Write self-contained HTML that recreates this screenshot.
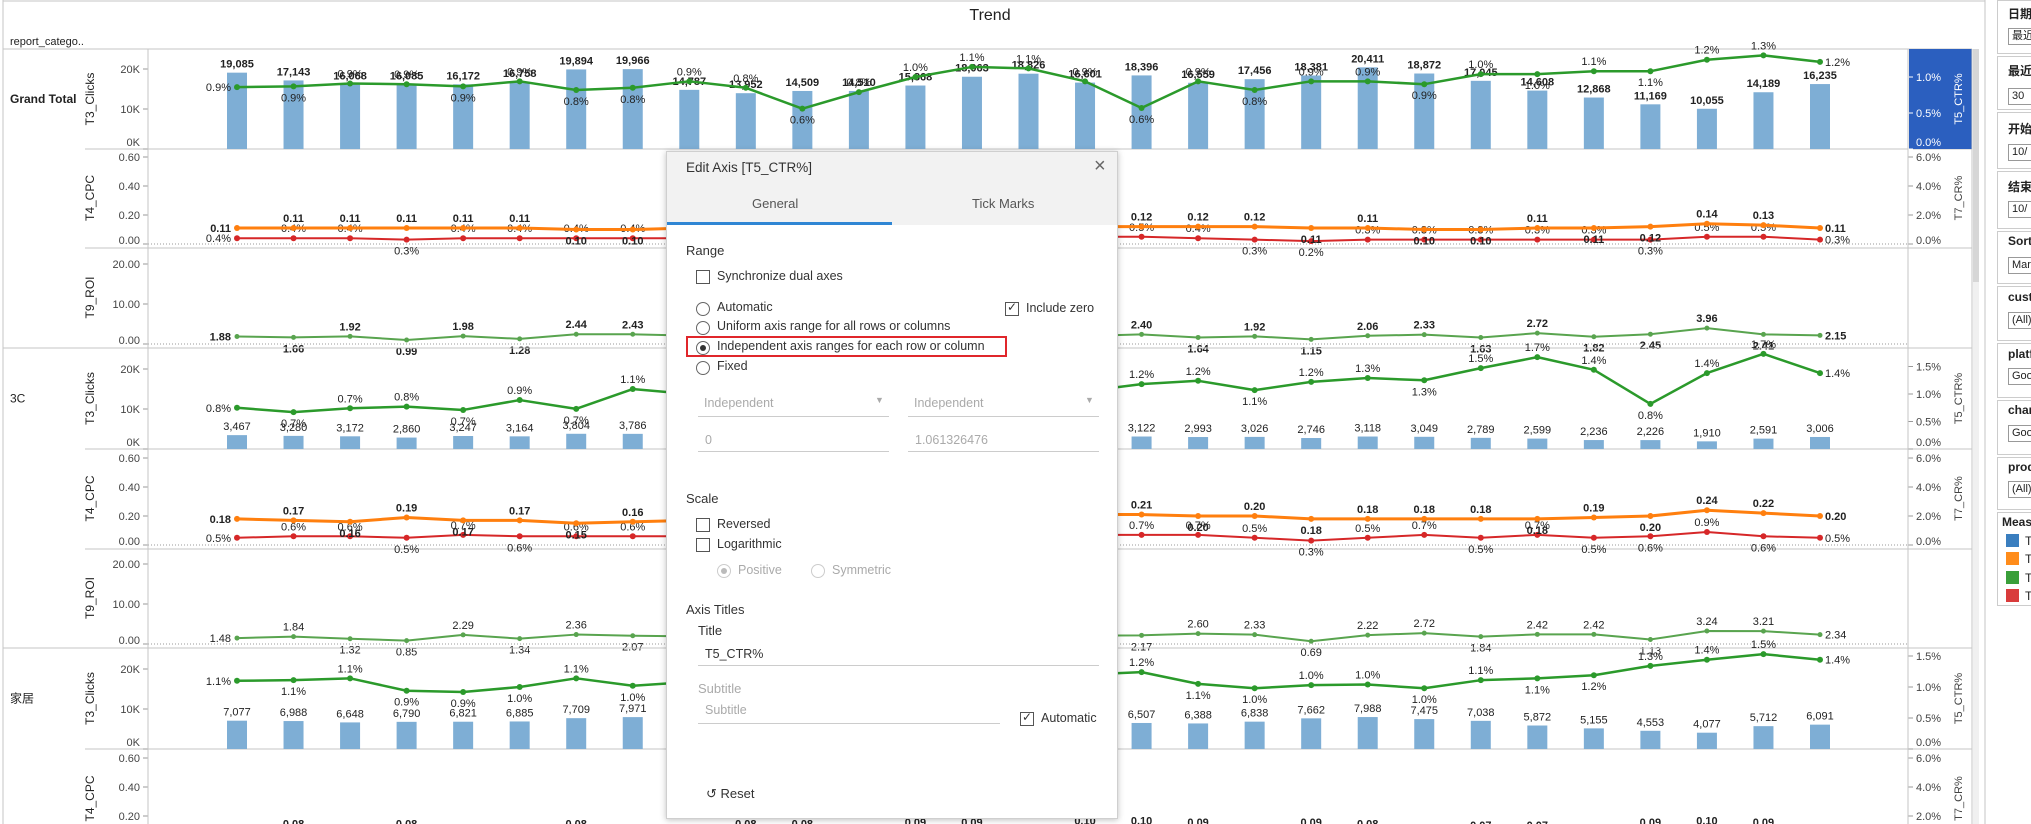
<!DOCTYPE html>
<html><head><meta charset="utf-8"><title>Trend</title>
<style>
html,body{margin:0;padding:0;background:#fff;width:2031px;height:824px;overflow:hidden;font-family:"Liberation Sans","Noto Sans CJK SC",sans-serif;}
#chart{position:absolute;left:0;top:0;}
.dlg{position:absolute;left:666px;top:151px;width:450px;height:666px;background:#fff;border:1px solid #cfcfcf;box-shadow:0 1px 6px rgba(0,0,0,.25);font-family:"Liberation Sans",sans-serif;font-size:12.5px;color:#333;}
.dlg .hd{position:absolute;left:0;top:0;width:450px;height:73px;background:#f2f2f2;}
.dlg .t{position:absolute;white-space:nowrap;}
.cb{position:absolute;width:12px;height:12px;border:1px solid #555;background:#fff;}
.rd{position:absolute;width:12px;height:12px;border:1px solid #666;border-radius:50%;background:#fff;}
.ln{position:absolute;height:1px;background:#ccc;}
.gray{color:#aaa;}
.fp{position:absolute;left:1997px;width:40px;border:1px solid #ccc;background:#fff;font-size:12px;color:#222;}
.fp .lb{position:absolute;left:10px;white-space:nowrap;font-weight:bold;}
.fp .bx{position:absolute;left:10px;width:40px;height:15px;border:1px solid #999;font-size:11px;line-height:15px;padding-left:3px;white-space:nowrap;overflow:hidden;}
</style></head><body>
<svg id="chart" width="2031" height="824" xmlns="http://www.w3.org/2000/svg"></svg>

<div class="fp" style="top:0px;height:52px"><span class="lb" style="top:4px">日期</span><div class="bx" style="top:27px">最近</div></div>
<div class="fp" style="top:56px;height:52px"><span class="lb" style="top:5px">最近</span><div class="bx" style="top:31px">30</div></div>
<div class="fp" style="top:112px;height:55px"><span class="lb" style="top:7px">开始</span><div class="bx" style="top:31px">10/</div></div>
<div class="fp" style="top:171px;height:56px"><span class="lb" style="top:6px">结束</span><div class="bx" style="top:29px">10/</div></div>
<div class="fp" style="top:231px;height:51px"><span class="lb" style="top:2px">Sort</span><div class="bx" style="top:25px">Mar</div></div>
<div class="fp" style="top:286px;height:53px"><span class="lb" style="top:3px">cust</span><div class="bx" style="top:25px">(All)</div></div>
<div class="fp" style="top:343px;height:53px"><span class="lb" style="top:3px">platf</span><div class="bx" style="top:24px">Goo</div></div>
<div class="fp" style="top:400px;height:53px"><span class="lb" style="top:2px">char</span><div class="bx" style="top:24px">Goo</div></div>
<div class="fp" style="top:457px;height:51px"><span class="lb" style="top:2px">prod</span><div class="bx" style="top:23px">(All)</div></div>
<div class="fp" style="top:512px;height:92px"><span class="lb" style="top:2px;left:4px">Meas</span>
<div style="position:absolute;left:8px;top:21px;width:13px;height:13px;background:#3a7ebf"></div><span style="position:absolute;left:27px;top:21px">T</span>
<div style="position:absolute;left:8px;top:39px;width:13px;height:13px;background:#ff8c1a"></div><span style="position:absolute;left:27px;top:39px">T</span>
<div style="position:absolute;left:8px;top:58px;width:13px;height:13px;background:#3a9f3a"></div><span style="position:absolute;left:27px;top:58px">T</span>
<div style="position:absolute;left:8px;top:76px;width:13px;height:13px;background:#d93b3b"></div><span style="position:absolute;left:27px;top:76px">T</span>
</div>
<div style="position:absolute;left:1973px;top:49px;width:6px;height:775px;background:#f0f0f0"></div>
<div style="position:absolute;left:1973px;top:49px;width:6px;height:233px;background:#d6d6d6"></div>

<div class="dlg">
 <div class="hd"></div>
 <span class="t" style="left:19px;top:8px;font-size:13.5px">Edit Axis [T5_CTR%]</span>
 <span class="t" style="left:427px;top:3px;font-size:20px;color:#666">×</span>
 <span class="t" style="left:85px;top:44px;font-size:13px;color:#555">General</span>
 <span class="t" style="left:305px;top:44px;font-size:13px;color:#555">Tick Marks</span>
 <div style="position:absolute;left:0;top:70px;width:225px;height:3px;background:#2f86d4"></div>
 <span class="t" style="left:19px;top:91px;font-size:13px">Range</span>
 <div class="cb" style="left:29px;top:118px"></div><span class="t" style="left:50px;top:117px">Synchronize dual axes</span>
 <div class="rd" style="left:29px;top:150px"></div><span class="t" style="left:50px;top:148px">Automatic</span>
 <div class="cb" style="left:338px;top:150px"><span style="position:absolute;left:1px;top:-3px;font-size:12px;color:#333">✓</span></div><span class="t" style="left:359px;top:149px">Include zero</span>
 <div class="rd" style="left:29px;top:169px"></div><span class="t" style="left:50px;top:167px">Uniform axis range for all rows or columns</span>
 <div style="position:absolute;left:19px;top:184px;width:321px;height:21px;border:2px solid #e0262b;box-sizing:border-box"></div>
 <div class="rd" style="left:29px;top:189px"><div style="position:absolute;left:3px;top:3px;width:6px;height:6px;border-radius:50%;background:#333"></div></div><span class="t" style="left:50px;top:187px">Independent axis ranges for each row or column</span>
 <div class="rd" style="left:29px;top:209px"></div><span class="t" style="left:50px;top:207px">Fixed</span>
 <span class="t gray" style="left:37px;top:244px">Independent</span><span class="t gray" style="left:208px;top:243px;font-size:9px">▼</span>
 <div class="ln" style="left:31px;top:264px;width:191px"></div>
 <span class="t gray" style="left:247px;top:244px">Independent</span><span class="t gray" style="left:418px;top:243px;font-size:9px">▼</span>
 <div class="ln" style="left:241px;top:264px;width:191px"></div>
 <span class="t gray" style="left:38px;top:281px">0</span>
 <div class="ln" style="left:31px;top:299px;width:191px"></div>
 <span class="t gray" style="left:248px;top:281px">1.061326476</span>
 <div class="ln" style="left:241px;top:299px;width:191px"></div>
 <span class="t" style="left:19px;top:339px;font-size:13px">Scale</span>
 <div class="cb" style="left:29px;top:366px"></div><span class="t" style="left:50px;top:365px">Reversed</span>
 <div class="cb" style="left:29px;top:386px"></div><span class="t" style="left:50px;top:385px">Logarithmic</span>
 <div class="rd" style="left:50px;top:412px;border-color:#ccc"><div style="position:absolute;left:3px;top:3px;width:6px;height:6px;border-radius:50%;background:#bbb"></div></div><span class="t gray" style="left:71px;top:411px">Positive</span>
 <div class="rd" style="left:144px;top:412px;border-color:#ccc"></div><span class="t gray" style="left:165px;top:411px">Symmetric</span>
 <span class="t" style="left:19px;top:450px;font-size:13px">Axis Titles</span>
 <span class="t" style="left:31px;top:471px;font-size:13px">Title</span>
 <span class="t" style="left:38px;top:495px">T5_CTR%</span>
 <div class="ln" style="left:31px;top:513px;width:401px"></div>
 <span class="t gray" style="left:31px;top:529px;font-size:13px">Subtitle</span>
 <span class="t gray" style="left:38px;top:551px">Subtitle</span>
 <div class="ln" style="left:31px;top:571px;width:302px"></div>
 <div class="cb" style="left:353px;top:560px"><span style="position:absolute;left:1px;top:-3px;font-size:12px;color:#333">✓</span></div><span class="t" style="left:374px;top:559px">Automatic</span>
 <span class="t" style="left:39px;top:634px;font-size:13px">↺ Reset</span>
</div>

<script>
const categoriesN = 29;
const gtClicks = [19085,17143,16068,16085,16172,16758,19894,19966,14787,13952,14509,14510,15868,18063,18826,16601,18396,16559,17456,18381,20411,18872,17045,14608,12868,11169,10055,14189,16235];
const gtCtr = [0.86,0.87,0.91,0.90,0.87,0.94,0.82,0.85,0.94,0.85,0.56,0.79,1.0,1.14,1.12,0.94,0.57,0.94,0.82,0.94,0.94,0.90,1.04,1.04,1.08,1.08,1.24,1.30,1.21];
const gtCpc = [0.11,0.11,0.11,0.11,0.11,0.11,0.10,0.10,0.11,0.11,0.11,0.11,0.11,0.12,0.12,0.12,0.12,0.12,0.12,0.11,0.11,0.10,0.10,0.11,0.11,0.12,0.14,0.13,0.11];
const gtCr = [0.4,0.4,0.4,0.3,0.4,0.4,0.4,0.4,0.4,0.4,0.4,0.4,0.4,0.5,0.5,0.5,0.5,0.4,0.3,0.2,0.3,0.3,0.3,0.3,0.3,0.3,0.5,0.5,0.3];
const gtRoi = [1.88,1.66,1.92,0.99,1.98,1.28,2.44,2.43,2.10,1.90,1.50,1.80,2.00,2.30,2.20,2.00,2.40,1.64,1.92,1.15,2.06,2.33,1.63,2.72,1.82,2.45,3.96,2.41,2.15];
const c3Clicks = [3467,3280,3172,2860,3247,3164,3804,3786,3700,3600,3500,3400,3300,3200,3150,3100,3122,2993,3026,2746,3118,3049,2789,2599,2236,2226,1910,2591,3006];
const c3Ctr = [0.75,0.67,0.74,0.77,0.71,0.89,0.73,1.09,1.0,0.95,1.0,1.05,1.1,1.15,1.1,1.05,1.18,1.24,1.07,1.22,1.29,1.25,1.47,1.67,1.44,0.82,1.38,1.73,1.38];
const c3Cpc = [0.18,0.17,0.16,0.19,0.17,0.17,0.15,0.16,0.17,0.18,0.18,0.19,0.19,0.20,0.20,0.21,0.21,0.20,0.20,0.18,0.18,0.18,0.18,0.18,0.19,0.20,0.24,0.22,0.20];
const c3Cr = [0.5,0.6,0.6,0.5,0.7,0.6,0.6,0.6,0.6,0.6,0.6,0.6,0.7,0.7,0.7,0.7,0.7,0.7,0.5,0.3,0.5,0.7,0.5,0.7,0.5,0.6,0.9,0.6,0.5];
const c3Roi = [1.48,1.84,1.32,0.85,2.29,1.34,2.36,2.07,1.90,2.00,1.80,2.10,2.20,2.00,2.30,2.10,2.17,2.60,2.33,0.69,2.22,2.72,1.84,2.42,2.42,1.13,3.24,3.21,2.34];
const hjClicks = [7077,6988,6648,6790,6821,6885,7709,7971,7500,7200,6900,6800,6700,6600,6500,6550,6507,6388,6838,7662,7988,7475,7038,5872,5155,4553,4077,5712,6091];
const hjCtr = [1.10,1.11,1.14,0.94,0.92,1.0,1.14,1.02,1.08,1.1,1.12,1.15,1.18,1.2,1.18,1.2,1.24,1.05,0.98,1.03,1.04,0.98,1.11,1.14,1.19,1.34,1.44,1.53,1.44];
const hjCpc = [0.07,0.08,0.07,0.08,0.07,0.07,0.08,0.07,0.07,0.08,0.08,0.08,0.09,0.09,0.09,0.10,0.10,0.09,0.08,0.09,0.08,0.07,0.07,0.07,0.07,0.09,0.10,0.09,0.08];
const hjCr = [0.5,0.5,0.5,0.5,0.5,0.5,0.5,0.5,0.5,0.5,0.5,0.5,0.5,0.5,0.5,0.5,0.5,0.5,0.5,0.5,0.5,0.5,0.5,0.5,0.5,0.5,0.5,0.5,0.5];
const clicksTicks = [0,10000,20000];
const clicksTickLabels = ['0K','10K','20K'];
const cpcTicks = [0,0.2,0.4,0.6];
const cpcTickLabels = ['0.00','0.20','0.40','0.60'];
const roiTicks = [0,10,20];
const roiTickLabels = ['0.00','10.00','20.00'];
const ctrTicksGT = [0,0.5,1.0];
const ctrTicks = [0,0.5,1.0,1.5];
const crTicks = [0,2,4,6];

const NS='http://www.w3.org/2000/svg';
const svg=document.getElementById('chart');
const BAR='#7eaed5', GREEN='#2b9a2b', ROIG='#59a44f', ORANGE='#ff7f0e', RED='#d62728', GRID='#c6c6c6';
const PL=148, PR=1908;
function X(i){return 237 + i*(1583/(categoriesN-1));}
function mk(tag,attrs){const e=document.createElementNS(NS,tag);for(const k in attrs)e.setAttribute(k,attrs[k]);svg.appendChild(e);return e;}
function tx(str,x,y,attrs){const e=mk('text',Object.assign({x:x,y:y,'font-size':11,fill:'#222','font-family':'Liberation Sans, Noto Sans CJK SC, sans-serif'},attrs||{}));e.textContent=str;return e;}
function fmtInt(v){return v.toLocaleString('en-US');}

// title
let t=tx('Trend',990,20,{'font-size':16,'text-anchor':'middle'});


t=tx('report_catego..',10,45,{'font-size':11});



const sections=[
 {name:'Grand Total',bold:true,t3:[49,149],t4:[149,248],t9:[248,348],clicks:gtClicks,ctr:gtCtr,ctrK:72,ctrT:ctrTicksGT,cpc:gtCpc,cr:gtCr,roi:gtRoi,hl:true},
 {name:'3C',bold:false,t3:[348,449],t4:[449,549],t9:[549,648],clicks:c3Clicks,ctr:c3Ctr,ctrK:55,ctrT:ctrTicks,cpc:c3Cpc,cr:c3Cr,roi:c3Roi},
 {name:'家居',bold:false,t3:[648,749],t4:[749,849],t9:null,clicks:hjClicks,ctr:hjCtr,ctrK:62,ctrT:ctrTicks,cpc:hjCpc,cr:hjCr,roi:null}
];

function hline(y,x1,x2,name){const l=mk('line',{x1:x1,y1:y,x2:x2,y2:y,stroke:GRID,'stroke-width':1});}
function leftAxis(ticks,labels,yf,top,bottom,title){
  ticks.forEach((v,k)=>{const y=yf(v);
    const d=mk('line',{x1:143,y1:y,x2:148,y2:y,stroke:'#999'});
    
    
    const cy=Math.max(top+8,Math.min(bottom-7,y));
    const l=tx(labels[k],140,cy+4,{'text-anchor':'end',fill:'#444'});
    
    });
  const cy=(top+bottom)/2;
  const a=tx(title,94,cy,{'text-anchor':'middle','font-size':12,transform:'rotate(-90 94 '+cy+')'});
  
  
}
function rightAxis(ticks,yf,top,bottom,title,hl,dec){
  if(hl){const r=mk('rect',{x:1909,y:top,width:63,height:bottom-top,fill:'#2b5fbf'});}
  const col=hl?'#fff':'#444';
  ticks.forEach(v=>{const y=yf(v);
    const d=mk('line',{x1:1908,y1:y,x2:1913,y2:y,stroke:hl?'#fff':'#999'});
    
    
    const cy=Math.max(top+8,Math.min(bottom-7,y));
    const l=tx(v.toFixed(1)+'%',1916,cy+4,{fill:col});
    
    });
  const cy=(top+bottom)/2;
  const a=tx(title,1962,cy,{'text-anchor':'middle','font-size':11,fill:col,transform:'rotate(-90 1962 '+cy+')'});
  
  
}
function lineSeries(data,yf,color,w,fmt,bold,name,r){
  const pts=data.map((v,i)=>X(i)+','+yf(v)).join(' ');
  const p=mk('polyline',{points:pts,fill:'none',stroke:color,'stroke-width':w,'stroke-linejoin':'round'});
  
  
  data.forEach((v,i)=>{
    const c=mk('circle',{cx:X(i),cy:yf(v),r:r,fill:color});
    
    
    let lx=X(i),ly,anchor='middle';
    const prev=i>0?data[i-1]:v,next=i<data.length-1?data[i+1]:v;
    if(i===0){lx=X(i)-6;ly=yf(v)+4;anchor='end';}
    else if(i===data.length-1){lx=X(i)+5;ly=yf(v)+4;anchor='start';}
    else if(v>=(prev+next)/2){ly=yf(v)-6;}
    else{ly=yf(v)+15;}
    const l=tx(fmt(v),lx,ly,{'text-anchor':anchor,'font-weight':bold?'bold':'normal'});
    
    
  });
}

sections.forEach(s=>{
  // row header
  const rh=tx(s.name,10,(s.t3[0]+s.t3[1])/2+4,{'font-size':12,'font-weight':s.bold?'bold':'normal'});
  
  
  hline(s.t3[0],3,1972,'section-divider');
  hline(s.t3[1],85,1972,'pane-divider');
  if(s.t9) hline(s.t4[1],85,1972,'pane-divider');
  // T3 pane
  const b3=s.t3[1];
  const yC=v=>b3 - v*0.004;
  const yT=v=>b3 - v*s.ctrK;
  leftAxis(clicksTicks,clicksTickLabels,yC,s.t3[0],b3,'T3_Clicks');
  rightAxis(s.ctrT,yT,s.t3[0],b3,'T5_CTR%',s.hl);
  s.clicks.forEach((v,i)=>{
    const b=mk('rect',{x:X(i)-10,y:yC(v),width:20,height:b3-yC(v),fill:BAR});
    
    
    const l=tx(fmtInt(v),X(i),yC(v)-5,{'text-anchor':'middle','font-weight':s.bold?'bold':'normal'});
    
    
  });
  lineSeries(s.ctr,yT,GREEN,2.5,v=>v.toFixed(1)+'%',false,'ctr',3);
  // T4 pane
  const z4=s.t4[1]-4;
  const yP=v=>z4 - v*145;
  const yR=v=>z4 - v*14.5;
  leftAxis(cpcTicks,cpcTickLabels,yP,s.t4[0],s.t4[1]-1,'T4_CPC');
  rightAxis(crTicks,yR,s.t4[0],s.t4[1]-1,'T7_CR%',false);
  const zl=mk('line',{x1:PL,y1:z4,x2:PR,y2:z4,stroke:'#999','stroke-dasharray':'1,2'});
  
  
  lineSeries(s.cr,yR,RED,2,v=>v.toFixed(1)+'%',false,'cr',3);
  lineSeries(s.cpc,yP,ORANGE,3,v=>v.toFixed(2),true,'cpc',3);
  // T9
  if(s.t9){
    const z9=s.t9[1]-4;
    const yO=v=>z9 - v*4;
    leftAxis(roiTicks,roiTickLabels,yO,s.t9[0],s.t9[1]-1,'T9_ROI');
    const zl2=mk('line',{x1:PL,y1:z9,x2:PR,y2:z9,stroke:'#999','stroke-dasharray':'1,2'});
    
    
    lineSeries(s.roi,yO,ROIG,2,v=>v.toFixed(2),s.bold,'roi',2.5);
  }
});
// vertical frame lines
[[3,0],[148,49],[1908,49],[1972,49]].forEach(a=>{
  const l=mk('line',{x1:a[0],y1:a[1],x2:a[0],y2:824,stroke:GRID});
  
  
});
hline(1,3,1985,'frame-top');
const fl=mk('line',{x1:1985,y1:0,x2:1985,y2:824,stroke:GRID});


</script>
</body></html>
